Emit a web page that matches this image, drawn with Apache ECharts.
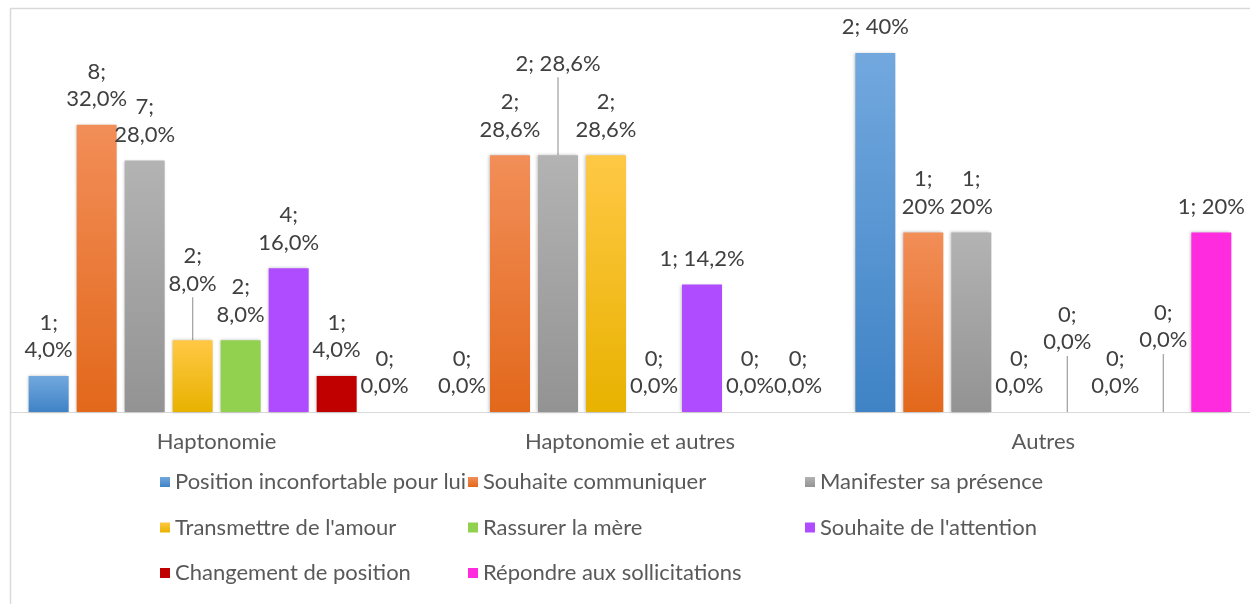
<!DOCTYPE html>
<html>
<head>
<meta charset="utf-8">
<script src="https://cdn.jsdelivr.net/npm/echarts@6/dist/echarts.min.js"></script>
<style>
  html, body { margin: 0; padding: 0; background: #ffffff; }
  #chart { width: 1250px; height: 604px; }
</style>
</head>
<body>
<div id="chart"></div>
<script>
// ---------- Data ----------
const categories = ['Haptonomie', 'Haptonomie et autres', 'Autres'];
const seriesNames = [
  'Position inconfortable pour lui',
  'Souhaite communiquer',
  'Manifester sa présence',
  "Transmettre de l'amour",
  'Rassurer la mère',
  "Souhaite de l'attention",
  'Changement de position',
  'Répondre aux sollicitations'
];
// percentages per category, in series order
const pctHaptonomie = [4.0, 32.0, 28.0, 8.0, 8.0, 16.0, 4.0, 0.0];
const pctHaptoAutres = [0.0, 28.6, 28.6, 28.6, 0.0, 14.2, 0.0, 0.0];
const pctAutres = [40, 20, 20, 0, 0, 0, 0, 20];
// counts per category, in series order
const countHaptonomie = [1, 8, 7, 2, 2, 4, 1, 0];
const countHaptoAutres = [0, 2, 2, 2, 0, 1, 0, 0];
const countAutres = [2, 1, 1, 0, 0, 0, 0, 1];
// percentage label texts per category
const pctTextHaptonomie = ['4,0%', '32,0%', '28,0%', '8,0%', '8,0%', '16,0%', '4,0%', '0,0%'];
const pctTextHaptoAutres = ['0,0%', '28,6%', '28,6%', '28,6%', '0,0%', '14,2%', '0,0%', '0,0%'];
const pctTextAutres = ['40%', '20%', '20%', '0,0%', '0,0%', '0,0%', '0,0%', '20%'];

// ---------- Build ----------
const pctByCat = [pctHaptonomie, pctHaptoAutres, pctAutres];
const countByCat = [countHaptonomie, countHaptoAutres, countAutres];
const textByCat = [pctTextHaptonomie, pctTextHaptoAutres, pctTextAutres];

const FONT = 'Lato';
const FS = 22;
const colors = [
  ['#72a8de', '#3f83c6'],
  ['#f28e58', '#e2681b'],
  ['#b3b3b3', '#939393'],
  ['#ffc845', '#e8b200'],
  ['#92d050', '#92d050'],
  ['#b04cff', '#b04cff'],
  ['#c00000', '#c00000'],
  ['#ff2bdf', '#ff2bdf']
];
// labels kept on one line (series,category)
const singleLine = { '2,1': 1, '5,1': 1, '0,2': 1, '7,2': 1 };
// labels lifted with leader line (series,category) -> vertical shift
const lifted = { '3,0': -31, '2,1': -66, '4,2': -44, '6,2': -46 };

const series = seriesNames.map((name, s) => {
  const c = colors[s];
  return {
    name: name,
    type: 'bar',
    barWidth: 40,
    barGap: '20%',
    itemStyle: {
      color: { type: 'linear', x: 0, y: 0, x2: 0, y2: 1,
        colorStops: [{ offset: 0, color: c[0] }, { offset: 1, color: c[1] }] },
      shadowColor: 'rgba(0,0,0,0.25)', shadowBlur: 3, shadowOffsetX: -1
    },
    label: {
      show: true,
      position: 'top',
      distance: 12,
      color: '#404040',
      fontFamily: FONT,
      fontSize: FS,
      lineHeight: 27.5,
      formatter: (p) => {
        const k = s + ',' + p.dataIndex;
        return countByCat[p.dataIndex][s] + ';' + (singleLine[k] ? ' ' : '\n') + textByCat[p.dataIndex][s];
      }
    },
    labelLayout: (p) => {
      const k = s + ',' + p.dataIndex;
      return lifted[k] ? { dy: lifted[k] } : {};
    },
    labelLine: { show: false, lineStyle: { color: '#a6a6a6', width: 1 } },
    data: categories.map((cat, ci) => {
      const k = s + ',' + ci;
      const v = pctByCat[ci][s];
      return lifted[k] ? { value: v, labelLine: { show: true, lineStyle: { color: '#a6a6a6', width: 1.3 } } } : v;
    })
  };
});

const legendCommon = {
  orient: 'vertical',
  itemWidth: 10,
  itemHeight: 10,
  itemGap: 23.5,
  padding: 0,
  textStyle: { color: '#595959', fontFamily: FONT, fontSize: FS },
  icon: 'rect',
  selectedMode: false
};

const chart = echarts.init(document.getElementById('chart'), null, { renderer: 'canvas' });
chart.setOption({
  animation: false,
  backgroundColor: '#ffffff',
  textStyle: { fontFamily: FONT },
  grid: { left: 10, width: 1242, top: 8, height: 404, containLabel: false },
  xAxis: {
    type: 'category',
    data: categories,
    axisLine: { show: true, lineStyle: { color: '#d9d9d9', width: 1 } },
    axisTick: { show: false },
    axisLabel: { color: '#595959', fontFamily: FONT, fontSize: FS, margin: 19 },
    splitLine: { show: false }
  },
  yAxis: {
    type: 'value', min: 0, max: 45, show: false, splitLine: { show: false }
  },
  legend: [
    Object.assign({}, legendCommon, { left: 160, top: 471, data: [seriesNames[0], seriesNames[3], seriesNames[6]] }),
    Object.assign({}, legendCommon, { left: 468, top: 471, data: [seriesNames[1], seriesNames[4], seriesNames[7]] }),
    Object.assign({}, legendCommon, { left: 805, top: 471, data: [seriesNames[2], seriesNames[5]] })
  ],
  graphic: [
    { type: 'rect', silent: true, z: -1,
      shape: { x: 10.5, y: 8.5, width: 1300, height: 700 },
      style: { fill: null, stroke: '#d9d9d9', lineWidth: 1.5 } }
  ],
  series: series
});
</script>
</body>
</html>
